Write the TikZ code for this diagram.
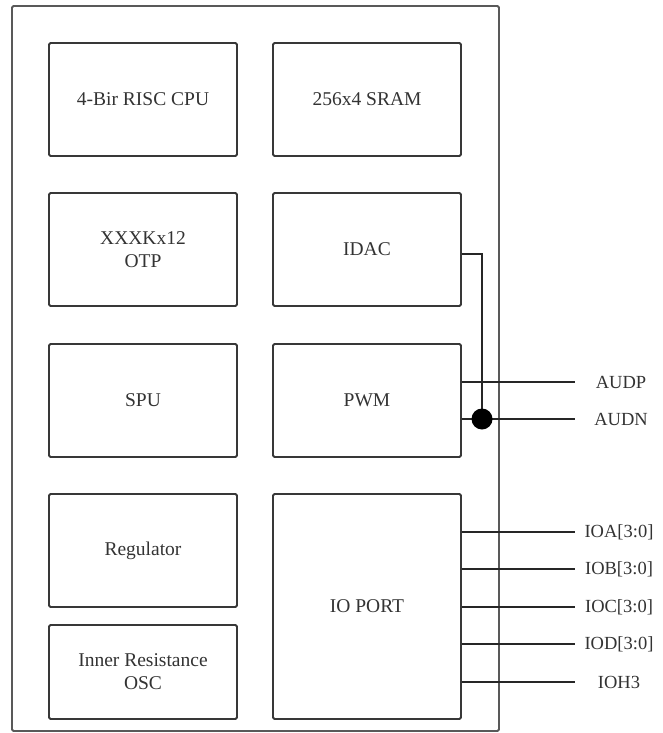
\documentclass[tikz,border=0pt]{standalone}
\usepackage{fontspec}
\setmainfont{Liberation Serif}
\begin{document}
\begin{tikzpicture}[x=1pt,y=-1pt,
  blk/.style={draw=black!78,line width=1.8pt,rounded corners=1.5pt,inner sep=0pt,
    minimum width=188pt,align=center,font=\fontsize{19.5}{23}\selectfont,text=black!80},
  wire/.style={draw=black!85,line width=1.8pt},
  lbl/.style={font=\fontsize{18.5}{22}\selectfont,text=black!80,anchor=center}]
\useasboundingbox (0,0) rectangle (663,733);
\node[draw=black!65,line width=1.8pt,rounded corners=1.5pt,minimum width=487pt,minimum height=725pt,inner sep=0pt] (chip) at (255.5,368.5) {};
\node[blk,minimum height=113pt] (cpu) at (143,99.5) {4-Bir RISC CPU};
\node[blk,minimum height=113pt] (sram) at (367,99.5) {256x4 SRAM};
\node[blk,minimum height=113pt] (otp) at (143,249.5) {XXXKx12\\OTP};
\node[blk,minimum height=113pt] (idac) at (367,249.5) {IDAC};
\node[blk,minimum height=113pt] (spu) at (143,400.5) {SPU};
\node[blk,minimum height=113pt] (pwm) at (367,400.5) {PWM};
\node[blk,minimum height=113pt] (reg) at (143,550.5) {Regulator};
\node[blk,minimum height=225pt] (io) at (367,606.5) {IO PORT};
\node[blk,minimum height=94pt] (osc) at (143,672) {Inner Resistance\\OSC};
% audio outputs
\coordinate (bend) at (482,254);
\coordinate (dot) at (482,419);
\coordinate (audpE) at (575,382);
\coordinate (audnE) at (575,419);
\draw[wire] (idac.east |- bend) -- (bend) -- (dot);
\draw[wire] (pwm.east |- audpE) -- (audpE);
\draw[wire] (pwm.east |- audnE) -- (audnE);
\fill[black] (dot) circle (10.5pt);
\node[lbl] (audp) at (621,382) {AUDP};
\node[lbl] (audn) at (621,419) {AUDN};
% io outputs
\foreach \n/\y/\t in {a/532/IOA[3:0],b/569/IOB[3:0],c/607/IOC[3:0],d/644/IOD[3:0],h/682/IOH3}{
  \coordinate (io\n E) at (575,\y);
  \draw[wire] (io.east |- io\n E) -- (io\n E);
  \node[lbl] (lbl\n) at (619,\y) {\t};
}
\end{tikzpicture}
\end{document}
